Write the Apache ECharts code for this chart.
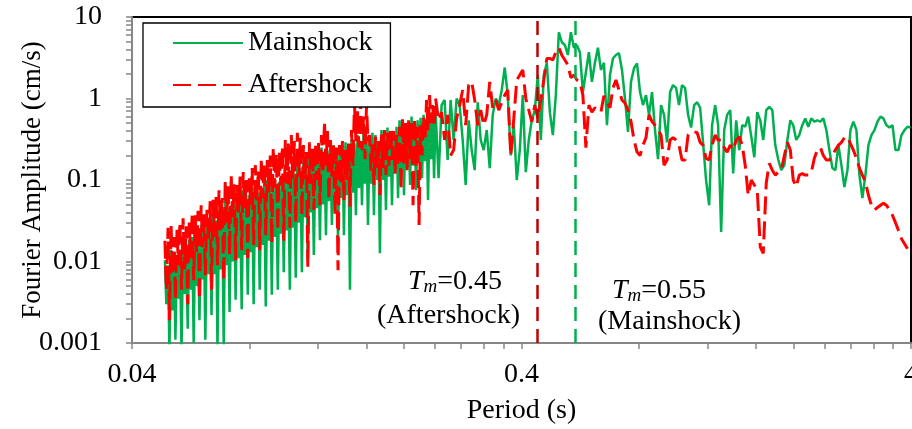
<!DOCTYPE html>
<html><head><meta charset="utf-8">
<script src="https://cdn.jsdelivr.net/npm/echarts@6/dist/echarts.min.js"></script>
<style>html,body{margin:0;padding:0;background:#fff}#c{width:912px;height:429px}</style>
</head><body><div id="c"></div>
<script>
// Period (s) sampling shared by both spectra (denser at short periods)
const periods = [
0.0486,0.0490,0.0495,0.0499,0.0504,0.0508,0.0513,0.0517,0.0522,0.0526,
0.0531,0.0536,0.0541,0.0546,0.0551,0.0556,0.0561,0.0566,0.0571,0.0576,
0.0581,0.0586,0.0591,0.0596,0.0602,0.0607,0.0612,0.0617,0.0623,0.0629,
0.0635,0.0640,0.0646,0.0652,0.0658,0.0663,0.0669,0.0675,0.0682,0.0688,
0.0694,0.0700,0.0706,0.0712,0.0719,0.0725,0.0732,0.0738,0.0745,0.0751,
0.0758,0.0765,0.0772,0.0779,0.0786,0.0793,0.0800,0.0807,0.0814,0.0821,
0.0829,0.0836,0.0844,0.0851,0.0859,0.0866,0.0874,0.0882,0.0890,0.0898,
0.0906,0.0914,0.0922,0.0930,0.0939,0.0947,0.0955,0.0964,0.0973,0.0981,
0.0990,0.0999,0.1008,0.1017,0.1026,0.1035,0.1044,0.1053,0.1063,0.1072,
0.1082,0.1092,0.1102,0.1111,0.1121,0.1131,0.1142,0.1152,0.1162,0.1172,
0.1183,0.1193,0.1204,0.1215,0.1226,0.1237,0.1248,0.1259,0.1270,0.1281,
0.1293,0.1304,0.1316,0.1328,0.1340,0.1352,0.1364,0.1376,0.1388,0.1400,
0.1413,0.1425,0.1438,0.1451,0.1464,0.1477,0.1490,0.1503,0.1517,0.1530,
0.1544,0.1558,0.1572,0.1586,0.1600,0.1614,0.1629,0.1643,0.1657,0.1672,
0.1687,0.1702,0.1717,0.1732,0.1748,0.1763,0.1779,0.1795,0.1811,0.1827,
0.1844,0.1860,0.1877,0.1894,0.1911,0.1928,0.1945,0.1962,0.1980,0.1997,
0.2015,0.2033,0.2051,0.2070,0.2088,0.2107,0.2126,0.2145,0.2164,0.2183,
0.2203,0.2222,0.2242,0.2262,0.2282,0.2302,0.2323,0.2344,0.2365,0.2386,
0.2407,0.2450,0.2494,0.2539,0.2585,0.2631,0.2678,0.2726,0.2775,0.2825,
0.2876,0.2927,0.2980,0.3033,0.3088,0.3143,0.3199,0.3257,0.3315,0.3374,
0.3435,0.3497,0.3559,0.3623,0.3688,0.3754,0.3822,0.3890,0.3960,0.4030,
0.4103,0.4176,0.4251,0.4327,0.4405,0.4484,0.4564,0.4646,0.4730,0.4814,
0.4900,0.4988,0.5078,0.5169,0.5262,0.5356,0.5452,0.5550,0.5650,0.5750,
0.5853,0.5958,0.6065,0.6174,0.6285,0.6397,0.6512,0.6629,0.6748,0.6868,
0.6991,0.7117,0.7245,0.7375,0.7507,0.7642,0.7779,0.7919,0.8061,0.8203,
0.8350,0.8500,0.8653,0.8808,0.8966,0.9127,0.9291,0.9458,0.9628,0.9798,
0.9974,1.015,1.033,1.052,1.071,1.090,1.110,1.130,1.150,1.170,
1.191,1.213,1.234,1.257,1.279,1.302,1.326,1.349,1.374,1.398,
1.423,1.449,1.475,1.501,1.528,1.556,1.584,1.612,1.641,1.670,
1.700,1.731,1.762,1.793,1.826,1.858,1.892,1.926,1.960,1.994,
2.030,2.066,2.103,2.141,2.180,2.219,2.259,2.299,2.341,2.382,
2.425,2.469,2.513,2.558,2.604,2.651,2.698,2.747,2.796,2.845,
2.897,2.949,3.001,3.055,3.110,3.166,3.223,3.281,3.340,3.398,
3.460,3.522,3.585,3.649,3.715,3.781,3.849,3.918,3.989];

// Fourier amplitude (cm/s) - Mainshock
const mainshock = [
0.0104,0.003,0.009,0.0008,0.0138,0.0025,0.011,0.0011,0.012,0.0035,
0.014,0.0008,0.0159,0.004,0.013,0.0015,0.0183,0.0045,0.02,0.001,
0.022,0.005,0.018,0.0019,0.028,0.006,0.024,0.0011,0.03,0.007,
0.026,0.0022,0.037,0.007,0.032,0.0008,0.043,0.008,0.038,0.0009,
0.057,0.009,0.045,0.0024,0.049,0.01,0.055,0.0034,0.06,0.011,
0.05,0.0026,0.075,0.012,0.065,0.0039,0.065,0.013,0.08,0.003,
0.087,0.015,0.07,0.0045,0.075,0.016,0.09,0.0028,0.1,0.018,
0.085,0.0039,0.105,0.02,0.09,0.0045,0.095,0.022,0.11,0.0074,
0.115,0.024,0.1,0.0045,0.132,0.026,0.12,0.0063,0.152,0.03,
0.14,0.0074,0.176,0.035,0.16,0.0104,0.233,0.04,0.19,0.012,
0.2,0.045,0.22,0.0183,0.25,0.05,0.21,0.021,0.233,0.055,
0.25,0.028,0.268,0.06,0.22,0.0183,0.233,0.06,0.27,0.021,
0.29,0.065,0.25,0.0045,0.31,0.07,0.28,0.037,0.356,0.08,
0.3,0.049,0.41,0.09,0.35,0.028,0.33,0.09,0.38,0.037,
0.356,0.1,0.3,0.0126,0.41,0.1,0.36,0.043,0.44,0.11,
0.4,0.049,0.39,0.12,0.45,0.06,0.54,0.13,0.48,0.065,
0.47,0.14,0.52,0.087,0.6,0.15,0.5,0.075,0.54,0.16,
0.58,0.105,0.63,0.17,0.55,0.057,0.66,0.18,0.6,0.105,
0.72,0.105,0.83,0.96,0.176,0.96,0.31,1.0,0.83,0.31,
0.087,0.54,0.233,0.132,0.9,0.31,0.233,0.41,0.14,0.63,
1.0,0.83,1.27,2.4,1.1,0.2,0.47,0.1,0.233,1.1,
0.125,0.31,0.54,0.72,1.94,0.31,1.94,2.75,0.68,0.356,
1.1,6.5,4.9,4.53,3.42,6.5,4.2,4.5,3.7,1.2,
2.1,3.7,1.6,2.75,4.2,2.24,2.75,0.47,1.94,3.1,
3.42,3.6,2.24,1.0,0.39,1.6,2.35,2.7,1.2,0.83,
1.1,0.63,1.2,0.41,0.18,0.83,0.63,0.29,1.2,1.46,
1.35,0.83,1.46,1.35,0.63,0.44,0.83,0.9,0.77,0.29,
0.1,0.049,0.47,0.83,0.47,0.023,0.41,0.63,0.72,0.12,
0.54,0.233,0.47,0.45,0.6,0.34,0.19,0.68,0.54,0.31,
0.72,0.79,0.72,0.268,0.176,0.132,0.152,0.31,0.54,0.47,
0.31,0.356,0.47,0.57,0.45,0.57,0.52,0.54,0.52,0.57,
0.41,0.233,0.14,0.132,0.268,0.152,0.082,0.132,0.41,0.52,
0.41,0.115,0.06,0.115,0.268,0.356,0.41,0.52,0.6,0.57,
0.47,0.44,0.47,0.233,0.233,0.356,0.41,0.45,0.44];

// Fourier amplitude (cm/s) - Aftershock
const aftershock = [
0.018,0.0045,0.026,0.0019,0.028,0.007,0.02,0.0034,0.025,0.009,
0.03,0.0045,0.034,0.008,0.027,0.003,0.03,0.011,0.04,0.0059,
0.037,0.013,0.042,0.0034,0.049,0.015,0.038,0.0068,0.043,0.018,
0.055,0.0045,0.057,0.02,0.065,0.009,0.075,0.024,0.06,0.0059,
0.1,0.03,0.085,0.012,0.115,0.035,0.09,0.0104,0.087,0.04,
0.11,0.0138,0.125,0.045,0.1,0.011,0.105,0.05,0.14,0.016,
0.152,0.055,0.13,0.0138,0.185,0.06,0.16,0.021,0.176,0.07,
0.2,0.017,0.25,0.08,0.21,0.024,0.22,0.085,0.26,0.018,
0.31,0.09,0.28,0.026,0.356,0.1,0.3,0.03,0.38,0.11,
0.33,0.037,0.268,0.1,0.22,0.0086,0.29,0.09,0.25,0.043,
0.28,0.1,0.3,0.049,0.356,0.12,0.52,0.15,0.4,0.057,
0.31,0.11,0.27,0.037,0.25,0.0078,0.268,0.09,0.3,0.057,
0.233,0.1,0.28,0.047,0.41,0.15,0.88,0.3,0.72,0.25,
0.96,0.233,0.6,0.18,0.83,0.3,0.356,0.13,0.3,0.087,
0.34,0.132,0.3,0.065,0.36,0.14,0.41,0.115,0.38,0.15,
0.44,0.176,0.4,0.12,0.356,0.15,0.45,0.075,0.57,0.16,
0.5,0.132,0.54,0.18,0.5,0.049,0.57,0.15,0.45,0.028,
0.47,0.2,0.6,0.31,0.96,0.4,1.1,0.5,0.83,0.45,
1.0,0.54,0.68,0.31,0.63,0.2,0.233,0.57,0.83,1.27,
0.47,1.46,1.6,0.96,0.47,0.72,0.47,0.63,1.6,0.77,
0.96,0.72,0.9,1.1,1.27,0.2,0.57,1.69,1.94,2.24,
1.0,0.72,0.52,0.83,0.57,0.96,1.69,3.1,3.1,2.97,
3.7,4.2,3.4,2.97,2.58,1.8,1.94,1.69,1.6,1.1,
0.25,0.83,0.68,0.77,0.72,0.68,1.08,0.9,0.77,1.35,
1.69,1.27,0.96,0.88,0.72,0.52,0.31,0.22,0.2,0.268,
0.33,0.63,0.52,0.47,0.41,0.356,0.152,0.176,0.31,0.33,
0.31,0.268,0.176,0.176,0.356,0.39,0.39,0.38,0.29,0.268,
0.185,0.176,0.268,0.356,0.31,0.31,0.25,0.22,0.268,0.233,
0.31,0.34,0.268,0.152,0.065,0.1,0.087,0.075,0.015,0.0126,
0.092,0.16,0.132,0.115,0.125,0.132,0.2,0.29,0.233,0.1,
0.083,0.115,0.12,0.115,0.115,0.125,0.185,0.233,0.25,0.2,
0.176,0.176,0.2,0.233,0.268,0.29,0.33,0.34,0.28,0.233,
0.185,0.14,0.115,0.095,0.065,0.049,0.043,0.046,0.049,0.052,
0.049,0.043,0.037,0.03,0.024,0.019,0.0165,0.0143,null];

// Predominant periods (vertical markers)
const tmAftershock = 0.443;
const tmMainshock = 0.552;

// Axis ticks
const xLabelTicks = [0.04, 0.4, 4];
const xAllTicks = [0.04,0.08,0.12,0.16,0.2,0.24,0.28,0.32,0.36,0.4,0.8,1.2,1.6,2,2.4,2.8,3.2,3.6,4];
const yLabelTicks = [0.001, 0.01, 0.1, 1, 10];
const yMinorMult = [1,2,3,4,5,6,7,8,9];

const yAllTicks = [];
[0.001, 0.01, 0.1, 1].forEach(d => yMinorMult.forEach(m => yAllTicks.push(+(d * m).toPrecision(3))));
yAllTicks.push(10);

const F = "'Liberation Serif','Times New Roman',serif";
const fmt = v => String(+(+v).toPrecision(3));
const tmRich = {
  i: {fontFamily: F, fontSize: 28, fontStyle: 'italic', fill: '#000', lineHeight: 30, verticalAlign: 'bottom'},
  s: {fontFamily: F, fontSize: 19, fontStyle: 'italic', fill: '#000', lineHeight: 12, verticalAlign: 'bottom'},
  n: {fontFamily: F, fontSize: 28, fill: '#000', lineHeight: 30, verticalAlign: 'bottom'}
};

const chart = echarts.init(document.getElementById('c'), null, {renderer: 'canvas'});
chart.setOption({
  animation: false,
  backgroundColor: '#fff',
  grid: {left: 132, right: 1, top: 17, bottom: 86, show: true, borderColor: '#000', borderWidth: 2,
         containLabel: false, outerBoundsMode: 'none'},
  legend: {
    orient: 'vertical', left: 143, top: 23,
    padding: [6, 18, 8, 29], itemGap: 14, itemWidth: 70, itemHeight: 14,
    borderColor: '#000', borderWidth: 1.3, backgroundColor: '#fff',
    itemStyle: {opacity: 0},
    textStyle: {fontFamily: F, fontSize: 28, color: '#000', lineHeight: 28},
    data: ['Mainshock', 'Aftershock']
  },
  xAxis: {
    type: 'log', logBase: 10, min: 0.04, max: 4, interval: 1,
    name: 'Period (s)', nameLocation: 'middle', nameGap: 54, nameMoveOverlap: false,
    nameTextStyle: {fontFamily: F, fontSize: 28, color: '#000'},
    axisLine: {show: true, lineStyle: {color: '#868686', width: 2}},
    axisTick: {show: true, length: 6, customValues: xAllTicks, lineStyle: {color: '#868686', width: 1.5}},
    axisLabel: {customValues: xLabelTicks, formatter: fmt, margin: 18,
                fontFamily: F, fontSize: 28, color: '#000'},
    splitLine: {show: false}, minorTick: {show: false}
  },
  yAxis: {
    type: 'log', logBase: 10, min: 0.001, max: 10, interval: 1,
    name: 'Fourier Amplitude (cm/s)', nameLocation: 'middle', nameGap: 86, nameMoveOverlap: false,
    nameTextStyle: {fontFamily: F, fontSize: 27, color: '#000'},
    axisLine: {show: true, lineStyle: {color: '#868686', width: 2}},
    axisTick: {show: true, length: 6, customValues: yAllTicks, lineStyle: {color: '#868686', width: 1.5}},
    axisLabel: {customValues: yLabelTicks, formatter: fmt, margin: 30,
                fontFamily: F, fontSize: 28, color: '#000'},
    splitLine: {show: false}, minorTick: {show: false}
  },
  series: [
    {
      name: 'Mainshock', type: 'line', symbol: 'none', clip: true,
      data: periods.map((p, i) => [p, mainshock[i]]),
      lineStyle: {color: '#00B050', width: 2.5},
      itemStyle: {color: '#00B050'},
      markLine: {
        silent: true, symbol: ['none', 'none'], label: {show: false},
        lineStyle: {color: '#00B050', width: 2.5, type: [14, 8]},
        data: [{xAxis: tmMainshock}]
      }
    },
    {
      name: 'Aftershock', type: 'line', symbol: 'none', clip: true,
      data: periods.map((p, i) => [p, aftershock[i]]).filter(d => d[1] !== null),
      lineStyle: {color: '#FF0000', width: 3, type: [18, 7]},
      itemStyle: {color: '#FF0000'},
      markLine: {
        silent: true, symbol: ['none', 'none'], label: {show: false},
        lineStyle: {color: '#C00000', width: 2.5, type: [14, 8]},
        data: [{xAxis: tmAftershock}]
      }
    }
  ],
  graphic: [
    {type: 'text', left: 408, top: 268, z: 100, style: {text: '{i|T}{s|m}{n|=0.45}', rich: tmRich}},
    {type: 'text', left: 377, top: 302, z: 100,
     style: {text: '(Aftershock)', fontFamily: F, fontSize: 28, fill: '#000'}},
    {type: 'text', left: 612, top: 277, z: 100, style: {text: '{i|T}{s|m}{n|=0.55}', rich: tmRich}},
    {type: 'text', left: 598, top: 308, z: 100,
     style: {text: '(Mainshock)', fontFamily: F, fontSize: 28, fill: '#000'}}
  ]
});
</script>
</body></html>
